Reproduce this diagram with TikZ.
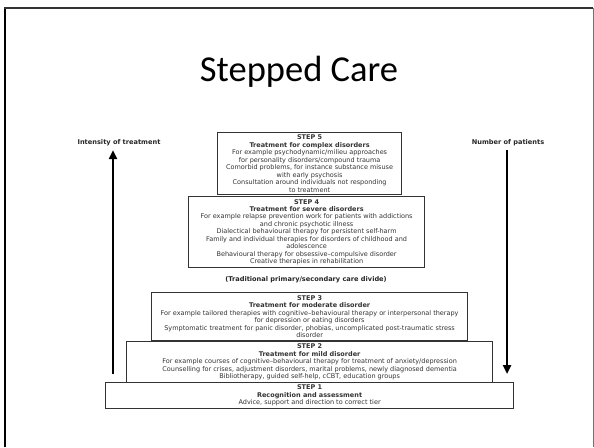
\documentclass[tikz,border=0pt]{standalone}
\usepackage{fontspec}
\setmainfont{DejaVu Sans}
\newfontfamily\titlefont{Carlito}
\usetikzlibrary{arrows.meta}
\begin{document}
\begin{tikzpicture}[x=1pt,y=-1pt,
  stepbox/.style={draw=black!80, line width=1.2pt, fill=white, anchor=north west,
    inner sep=0pt, align=center, font=\fontsize{6.5}{7.45}\selectfont, text=black!80},
  lbl/.style={font=\fontsize{6.6}{7.5}\selectfont\bfseries, text=black!85},
  bigarrow/.style={line width=2.6pt, -{Triangle[length=9pt,width=8pt]}}]
\useasboundingbox (0,0) rectangle (594,447);
% slide frame
\draw[line width=2pt, black] (5,447) -- (5,8);
\draw[line width=1.2pt, black!80] (4,8) -- (593,8);
\draw[line width=1pt, black!55] (593,8) -- (593,447);
% title
\node[font=\titlefont\fontsize{36.5}{42}\selectfont] (title) at (299,72) {Stepped Care};
% side labels and arrows
\node[lbl] (int) at (119,143) {Intensity of treatment};
\node[lbl] (num) at (508,143) {Number of patients};
\coordinate (la) at (113,374);
\coordinate (lb) at (113,150);
\coordinate (ra) at (507,150);
\coordinate (rb) at (507,374);
\draw[bigarrow] (la) -- (lb);
\draw[bigarrow] (ra) -- (rb);
% steps
\node[stepbox, minimum width=184pt, minimum height=62pt] (s5) at (217,132) {%
  \textbf{STEP 5}\\ \textbf{Treatment for complex disorders}\\
  For example psychodynamic/milieu approaches\\ for personality disorders/compound trauma\\
  Comorbid problems, for instance substance misuse\\ with early psychosis\\
  Consultation around individuals not responding\\ to treatment};
\node[stepbox, minimum width=236pt, minimum height=71pt] (s4) at (188,196) {%
  \textbf{STEP 4}\\ \textbf{Treatment for severe disorders}\\
  For example relapse prevention work for patients with addictions\\ and chronic psychotic illness\\
  Dialectical behavioural therapy for persistent self-harm\\
  Family and individual therapies for disorders of childhood and\\ adolescence\\
  Behavioural therapy for obsessive–compulsive disorder\\
  Creative therapies in rehabilitation};
\node[lbl] (divide) at (306,280) {(Traditional primary/secondary care divide)};
\node[stepbox, minimum width=316pt, minimum height=48pt] (s3) at (151,292) {%
  \textbf{STEP 3}\\ \textbf{Treatment for moderate disorder}\\
  For example tailored therapies with cognitive–behavioural therapy or interpersonal therapy\\
  for depression or eating disorders\\
  Symptomatic treatment for panic disorder, phobias, uncomplicated post-traumatic stress\\ disorder};
\node[stepbox, minimum width=366pt, minimum height=41pt] (s2) at (126,341) {%
  \textbf{STEP 2}\\ \textbf{Treatment for mild disorder}\\
  For example courses of cognitive–behavioural therapy for treatment of anxiety/depression\\
  Counselling for crises, adjustment disorders, marital problems, newly diagnosed dementia\\
  Bibliotherapy, guided self-help, cCBT, education groups};
\node[stepbox, minimum width=408pt, minimum height=26pt] (s1) at (105,382) {%
  \textbf{STEP 1}\\ \textbf{Recognition and assessment}\\
  Advice, support and direction to correct tier};
\end{tikzpicture}
\end{document}
